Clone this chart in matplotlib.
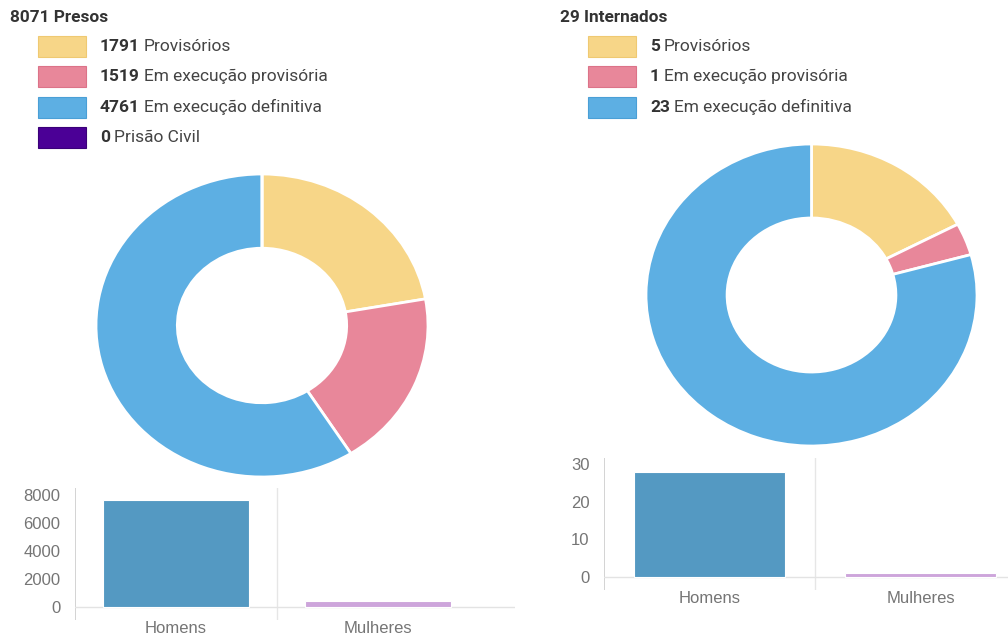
import matplotlib.pyplot as plt
from matplotlib.patches import Rectangle

plt.rcParams['font.family'] = ['Roboto', 'DejaVu Sans']

# dados
situacoes_presos = ['Provisórios', 'Em execução provisória', 'Em execução definitiva', 'Prisão Civil']
presos = [1791, 1519, 4761, 0]
situacoes_internados = ['Provisórios', 'Em execução provisória', 'Em execução definitiva']
internados = [5, 1, 23]
sexo = ['Homens', 'Mulheres']
presos_sexo = [7640, 431]
internados_sexo = [28, 1]

cores_situacao = ['#F7D688', '#E8879A', '#5DAFE3', '#4B0096']
bordas_situacao = ['#EFC972', '#DC7388', '#4A9FD6', '#3A0078']
cores_sexo = ['#5499C2', '#CDA5DB']

W, H = 1008, 635
fig = plt.figure(figsize=(W / 100, H / 100), dpi=100)
fig.patch.set_facecolor('white')


def px_axes(x0, y0, x1, y1):
    return fig.add_axes([x0 / W, 1 - y1 / H, (x1 - x0) / W, (y1 - y0) / H])


def legenda(x, y, titulo, valores, nomes):
    r = fig.canvas.get_renderer()
    fig.text(x / W, 1 - y / H, titulo, fontsize=12.4, fontweight='bold',
             color='#333333', va='center', ha='left')
    for i, (v, nome) in enumerate(zip(valores, nomes)):
        yy = y + 29.5 + i * 30.3
        fig.add_artist(Rectangle(((x + 28) / W, 1 - (yy + 10.5) / H), 48 / W, 21 / H,
                                 transform=fig.transFigure, facecolor=cores_situacao[i],
                                 edgecolor=bordas_situacao[i], linewidth=0.8))
        t = fig.text((x + 90) / W, 1 - yy / H, str(v), fontsize=12.5, fontweight='bold',
                     color='#333333', va='center', ha='left')
        bb = t.get_window_extent(renderer=r)
        fig.text((bb.x1 + 4) / W, 1 - yy / H, nome, fontsize=12.5,
                 color='#444444', va='center', ha='left')


def rosca(ax, valores):
    ax.pie(valores, colors=cores_situacao[:len(valores)], startangle=90, counterclock=False,
           radius=1, wedgeprops=dict(width=0.49, edgecolor='white', linewidth=2))
    ax.set_aspect('auto')
    ax.set_xlim(-1, 1)
    ax.set_ylim(-1, 1)
    ax.axis('off')


def barras(ax, valores, ylim, xmax, yticks):
    ax.bar(range(len(sexo)), valores, width=0.72, color=cores_sexo, edgecolor='white', linewidth=0.8)
    ax.set_xlim(-0.5, xmax)
    ax.set_ylim(*ylim)
    for s in ax.spines.values():
        s.set_visible(False)
    ax.axvline(-0.5, color='#cccccc', linewidth=1.2, zorder=0)
    ax.axvline(0.5, color='#e6e6e6', linewidth=1, zorder=0)
    ax.axhline(0, color='#e3e3e3', linewidth=1, zorder=0)
    ax.set_yticks(yticks)
    ax.set_xticks(range(len(sexo)))
    ax.set_xticklabels(sexo)
    for lbl in ax.get_xticklabels() + ax.get_yticklabels():
        lbl.set_family(['Liberation Sans', 'DejaVu Sans'])
    ax.tick_params(axis='y', length=0, pad=10.5, labelsize=12, labelcolor='#757575')
    ax.tick_params(axis='x', length=0, pad=0.5, labelsize=12, labelcolor='#757575')


legenda(10, 17, '8071 Presos', presos, situacoes_presos)
legenda(560, 17, '29 Internados', internados, situacoes_internados)

rosca(px_axes(96, 174, 428, 477), presos)
rosca(px_axes(646, 144, 977, 446), internados)

barras(px_axes(75, 488, 515, 620), presos_sexo, (-929, 8500), 1.678, [0, 2000, 4000, 6000, 8000])
barras(px_axes(604, 458, 1008, 590), internados_sexo, (-3.45, 31.6), 1.415, [0, 10, 20, 30])

fig.savefig('out.png', dpi=100, facecolor='white')
